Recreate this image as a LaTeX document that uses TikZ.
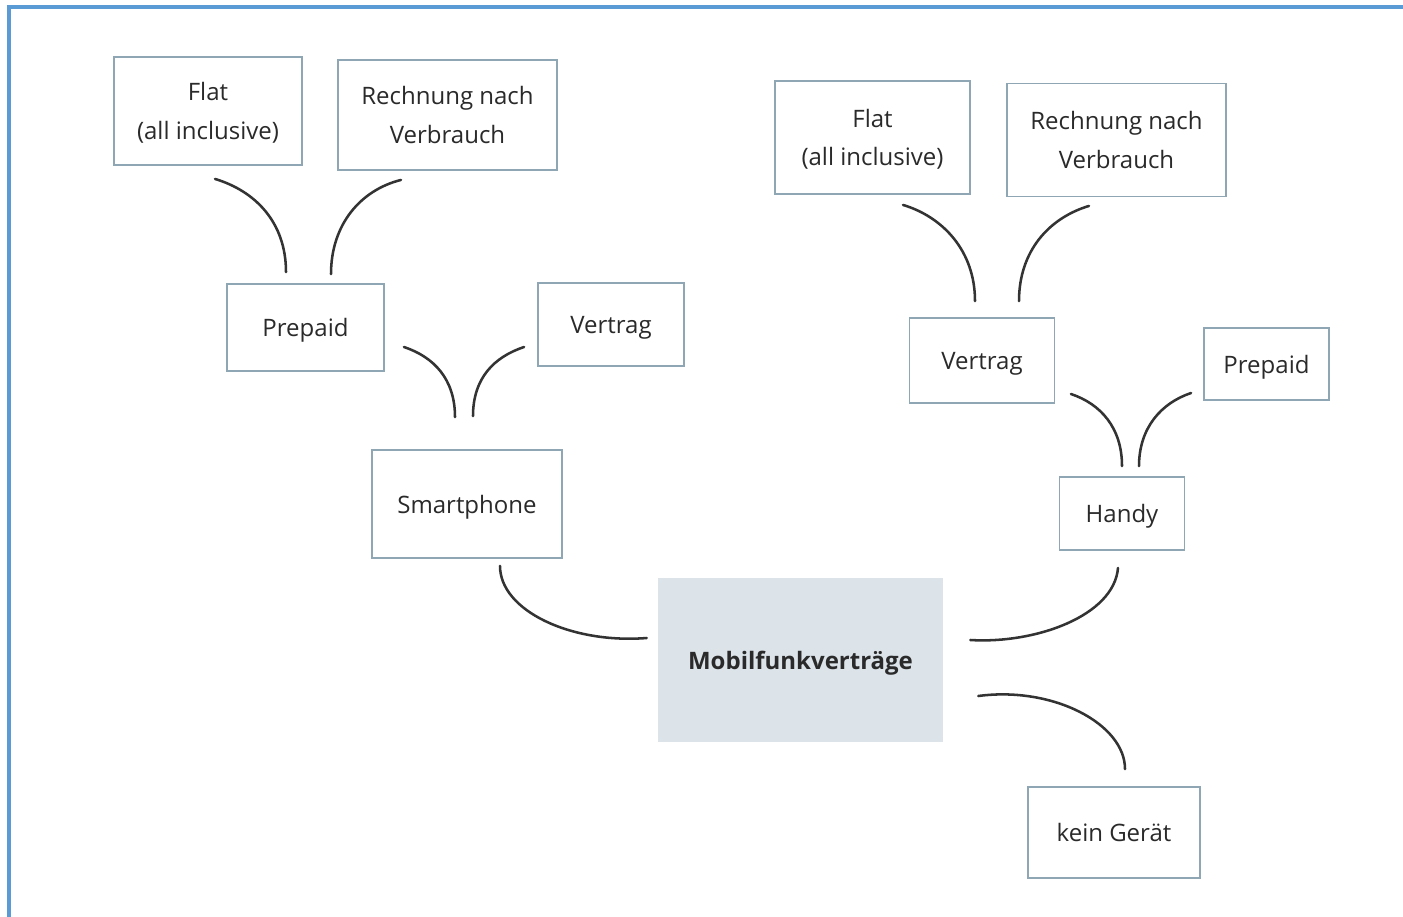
\documentclass[tikz,border=0pt]{standalone}
\usepackage{fontspec}
\setmainfont{Open Sans}
\usetikzlibrary{calc}
\definecolor{boxline}{HTML}{8FA6B5}
\definecolor{centerfill}{HTML}{DCE4EA}
\definecolor{framecol}{HTML}{5B9BD5}
\definecolor{txt}{HTML}{2A2A2A}
\definecolor{conn}{HTML}{333333}
\begin{document}
\begin{tikzpicture}[x=0.75pt,y=-0.75pt,
  dim/.style 2 args={minimum width=#1*0.75pt, minimum height=#2*0.75pt},
  box/.style={draw=boxline, line width=1.4pt, fill=white, inner sep=0pt, text depth=0pt, align=center, text=txt, font=\fontsize{18}{29}\selectfont},
  hub/.style={fill=centerfill, inner sep=0pt, text depth=0pt, align=center, text=txt, font=\fontsize{18}{29}\selectfont\bfseries},
  link/.style={draw=conn, line width=1.9pt, line cap=round},
  frame/.style={draw=framecol, line width=2.4pt}]
\useasboundingbox (0,0) rectangle (1403,917);
\fill[white] (0,0) rectangle (1403,917);
\draw[frame] (9,917) -- (9,7) -- (1403,7);

\node[box, dim={188}{108}] (fl) at (208,111) {Flat\\(all inclusive)};
\node[box, dim={219}{110}] (rl) at (447.5,115) {Rechnung nach\\Verbrauch};
\node[box, dim={157}{87}] (pl) at (305.5,327.5) {Prepaid};
\node[box, dim={146}{83}] (vl) at (611,324.5) {Vertrag};
\node[box, dim={190}{108}] (sm) at (467,504) {Smartphone};
\node[hub, dim={285}{164}] (mc) at (800.5,660) {Mobilfunkverträge};
\node[box, dim={195}{113}] (fr) at (872.5,137.5) {Flat\\(all inclusive)};
\node[box, dim={219}{113}] (rr) at (1116.5,140) {Rechnung nach\\Verbrauch};
\node[box, dim={145}{85}] (vr) at (982,360.5) {Vertrag};
\node[box, dim={125}{72}] (pr) at (1266.5,364) {Prepaid};
\node[box, dim={125}{73}] (hy) at (1122,513.5) {Handy};
\node[box, dim={172}{91}] (kg) at (1114,832.5) {kein Gerät};

\draw[link] ($(fl.south)+(7,13)$) .. controls +(40,12) and +(0,-50) .. ($(pl.north)+(-19.5,-11)$);
\draw[link] ($(rl.south)+(-46.5,9)$) .. controls +(-40,10) and +(0,-50) .. ($(pl.north)+(25.5,-9)$);
\draw[link] ($(pl.east)+(19,19.5)$) .. controls +(30,10) and +(0,-38) .. ($(sm.north)+(-12,-32)$);
\draw[link] ($(vl.west)+(-13,22.5)$) .. controls +(-30,10) and +(0,-38) .. ($(sm.north)+(6,-33)$);
\draw[link] ($(sm.south)+(33,7)$) .. controls +(0,45) and +(-75,6) .. ($(mc.west)+(-11,-22)$);
\draw[link] ($(hy.south)+(-4,17)$) .. controls +(-4,48) and +(65,4) .. ($(mc.east)+(27,-20)$);
\draw[link] ($(mc.east)+(35,36)$) .. controls +(75,-10) and +(0,-45) .. ($(kg.north)+(11,-17)$);
\draw[link] ($(fr.south)+(30.5,10)$) .. controls +(40,12) and +(0,-50) .. ($(vr.north)+(-7,-16)$);
\draw[link] ($(rr.south)+(-27.5,8.5)$) .. controls +(-40,12) and +(0,-50) .. ($(vr.north)+(37,-16)$);
\draw[link] ($(vr.east)+(15.5,33.5)$) .. controls +(30,10) and +(0,-38) .. ($(hy.north)+(0,-10)$);
\draw[link] ($(pr.west)+(-12,29)$) .. controls +(-30,10) and +(0,-38) .. ($(hy.north)+(17,-10)$);
\end{tikzpicture}
\end{document}
